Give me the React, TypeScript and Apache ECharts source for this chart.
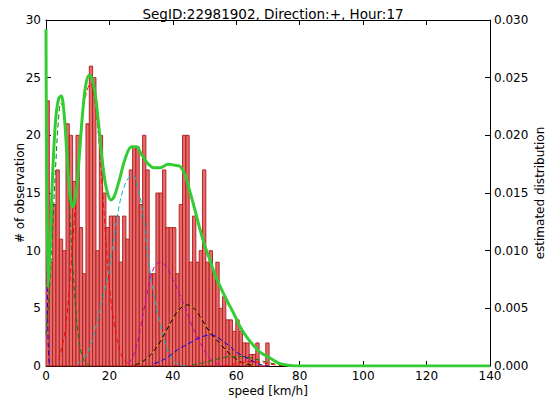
import React, { useEffect, useRef } from "react";
import * as echarts from "echarts";

const TITLE = "SegID:22981902, Direction:+, Hour:17";
const BIN_START = 0;
const BIN_WIDTH = 1.05;
const counts = [
  23, 9, 14, 17, 11, 10, 21, 20, 16, 20, 12, 8, 21, 26, 25, 10, 20, 15, 12, 13,
  13, 13, 9, 13, 11, 17, 19, 19, 14, 20, 17, 8, 8, 15, 15, 17, 12, 12, 12, 8,
  14, 20, 20, 9, 13, 9, 10, 17, 9, 10, 8, 9, 5, 6, 4, 4, 3, 4, 3, 2, 2, 1, 1, 2, 0, 0, 2,
];

const kde = [
  [0, 0.0292], [0.6, 0.0068], [1.2, 0.0095], [2, 0.016], [3, 0.0212], [4, 0.0232], [4.8, 0.0234],
  [5.6, 0.0222], [6.5, 0.0188], [7.5, 0.0150], [8.5, 0.0138], [9.5, 0.0150], [10.5, 0.0182],
  [11.5, 0.0218], [12.5, 0.0243], [13.6, 0.0252], [14.4, 0.0250], [15.5, 0.0236], [16.5, 0.0212],
  [17.5, 0.0184], [18.5, 0.0162], [19.5, 0.0149], [20.5, 0.0144], [21.5, 0.0147], [23, 0.0160],
  [25, 0.0180], [27, 0.0190], [28.5, 0.0190], [30, 0.0184], [32, 0.0176], [34, 0.0172],
  [36, 0.0172], [38.5, 0.0175], [40.7, 0.0174], [42.3, 0.0173], [43.8, 0.0166], [45.4, 0.0151],
  [47, 0.0135], [48.6, 0.0118], [50.1, 0.0104], [51.7, 0.0092], [53.3, 0.0079], [54.9, 0.0069],
  [57, 0.0057], [59.1, 0.0046], [61.2, 0.0034], [63.3, 0.0025], [65.4, 0.0018], [67.5, 0.0012],
  [70.6, 0.0007], [73.8, 0.0002], [77, 0.00005], [80, 0], [140, 0],
];

const compBlue1 = [[0, 0.027], [0.2, 0.019], [0.4, 0.0075], [0.6, 0.0028], [0.8, 0.0010], [1.0, 0.0003], [1.5, 0]];
const compGreen1 = [
  [0, 0.0027], [1, 0.0062], [2, 0.0114], [3, 0.0171], [4, 0.0216], [4.7, 0.0228], [5.5, 0.0222],
  [6.5, 0.0186], [7.5, 0.0134], [8.5, 0.0083], [9.5, 0.0044], [10.5, 0.0020], [11.5, 0.0008],
  [12.5, 0.0003], [14, 0],
];
const compRed1 = [
  [4, 0.0005], [6, 0.0030], [8, 0.0090], [10, 0.0170], [12, 0.0228], [14, 0.0245], [16, 0.0215],
  [18, 0.0145], [20, 0.0070], [22, 0.0028], [24, 0.0008], [26, 0.0002], [28, 0],
];
const compCyan = [
  [10, 0.0002], [12, 0.0007], [14, 0.0017], [16, 0.0037], [18, 0.0060], [20, 0.0085], [22, 0.0122],
  [24, 0.0150], [26, 0.0163], [27.5, 0.0165], [29, 0.0155], [30.5, 0.0133], [32, 0.0098],
  [34, 0.0062], [36, 0.0037], [38, 0.0016], [40, 0.0005], [42, 0.0001], [44, 0],
];
const compMagenta = [
  [26, 0.0002], [28, 0.0012], [30, 0.0036], [32, 0.0065], [34, 0.0085], [36, 0.0090], [38, 0.0086],
  [40, 0.0075], [42, 0.0063], [44, 0.0050], [46, 0.0035], [48, 0.0024], [50, 0.0013], [52, 0.0006],
  [54, 0.0002], [56, 0],
];
const compBlack = [
  [28, 0.0001], [30, 0.0003], [32, 0.0007], [34, 0.0013], [36, 0.0021], [38, 0.0031], [40, 0.0041],
  [42, 0.0049], [44.5, 0.0053], [47, 0.0049], [49, 0.0041], [51, 0.0032], [53, 0.0025], [55, 0.0019],
  [57, 0.0013], [59, 0.0008], [61, 0.0004], [63, 0.0002], [66, 0],
];
const compBlue2 = [
  [34, 0.0002], [36, 0.0004], [38, 0.0007], [40, 0.0011], [42, 0.0015], [44, 0.0018], [46, 0.0021],
  [48, 0.0024], [50, 0.0026], [52, 0.0027], [54, 0.0025], [56, 0.0021], [58, 0.0017], [60, 0.0012],
  [62, 0.0009], [64, 0.0006], [66, 0.0003], [68, 0.0001], [70, 0],
];
const compGreen2 = [
  [46, 0.0001], [50, 0.0003], [54, 0.0006], [58, 0.0008], [62, 0.0008], [66, 0.0006], [70, 0.0003],
  [74, 0.0001], [78, 0],
];
const compRed2 = [[56, 0], [60, 0.0002], [64, 0.0004], [68, 0.0003], [72, 0.0001], [76, 0]];

const FONT = "DejaVu Sans";

export default function App() {
  const ref = useRef<HTMLDivElement>(null);
  useEffect(() => {
    const chart = echarts.init(ref.current!, null, { renderer: "svg" });
    const barData = counts.map((c, i) => [BIN_START + i * BIN_WIDTH, BIN_START + (i + 1) * BIN_WIDTH, c]);
    const dashed = (name: string, data: number[][], color: string, offset = 0) => ({
      name,
      type: "line",
      yAxisIndex: 1,
      data,
      smooth: 0.35,
      symbol: "none",
      z: 3,
      lineStyle: { color, width: 1, type: [5, 3], dashOffset: offset },
    });
    chart.setOption({
      animation: false,
      backgroundColor: "#ffffff",
      textStyle: { fontFamily: FONT },
      title: {
        text: TITLE,
        left: 268,
        textAlign: "center",
        top: 2,
        textStyle: { fontFamily: FONT, fontSize: 13.5, fontWeight: "normal", color: "#000" },
      },
      grid: { left: 46, right: 61, top: 20, bottom: 34, containLabel: false, outerBoundsMode: "none" },
      xAxis: [
        {
          type: "value",
          min: 0,
          max: 140,
          interval: 20,
          position: "bottom",
          name: "speed [km/h]",
          nameLocation: "middle",
          nameGap: 19,
          nameMoveOverlap: false,
          nameTextStyle: { fontFamily: FONT, fontSize: 12, color: "#000" },
          axisLine: { onZero: false, lineStyle: { color: "#000", width: 1 } },
          axisTick: { inside: true, length: 5, lineStyle: { color: "#000" } },
          axisLabel: { fontFamily: FONT, fontSize: 12, color: "#000", margin: 4 },
          splitLine: { show: false },
        },
        {
          type: "value",
          min: 0,
          max: 140,
          interval: 20,
          position: "top",
          axisLine: { onZero: false, lineStyle: { color: "#000", width: 1 } },
          axisTick: { inside: true, length: 5, lineStyle: { color: "#000" } },
          axisLabel: { show: false },
          splitLine: { show: false },
        },
      ],
      yAxis: [
        {
          type: "value",
          min: 0,
          max: 30,
          interval: 5,
          position: "left",
          name: "# of observation",
          nameLocation: "middle",
          nameGap: 20,
          nameRotate: 90,
          nameMoveOverlap: false,
          nameTextStyle: { fontFamily: FONT, fontSize: 12, color: "#000" },
          axisLine: { show: true, onZero: false, lineStyle: { color: "#000", width: 1 } },
          axisTick: { show: true, inside: true, length: 5, lineStyle: { color: "#000" } },
          axisLabel: { fontFamily: FONT, fontSize: 12, color: "#000", margin: 5 },
          splitLine: { show: false },
        },
        {
          type: "value",
          min: 0,
          max: 0.03,
          interval: 0.005,
          position: "right",
          name: "estimated distribution",
          nameLocation: "middle",
          nameGap: 44,
          nameRotate: 90,
          nameMoveOverlap: false,
          nameTextStyle: { fontFamily: FONT, fontSize: 12, color: "#000" },
          axisLine: { show: true, onZero: false, lineStyle: { color: "#000", width: 1 } },
          axisTick: { show: true, inside: true, length: 5, lineStyle: { color: "#000" } },
          axisLabel: {
            fontFamily: FONT,
            fontSize: 12,
            color: "#000",
            margin: 4,
            formatter: (v: number) => v.toFixed(3),
          },
          splitLine: { show: false },
        },
      ],
      series: [
        {
          name: "histogram",
          type: "custom",
          xAxisIndex: 0,
          yAxisIndex: 0,
          data: barData,
          encode: { x: [0, 1], y: 2 },
          z: 1,
          renderItem: (params: any, api: any) => {
            const x0 = api.value(0);
            const x1 = api.value(1);
            const h = api.value(2);
            const p0 = api.coord([x0, h]);
            const p1 = api.coord([x1, 0]);
            return {
              type: "rect",
              shape: { x: p0[0], y: p0[1], width: p1[0] - p0[0], height: p1[1] - p0[1] },
              style: { fill: "#e86a6a", stroke: "#a81c1c", lineWidth: 0.9 },
            };
          },
        },
        dashed("b1", compBlue1, "#0000ff"),
        dashed("g1", compGreen1, "#007f00"),
        dashed("r1", compRed1, "#ff0000"),
        dashed("c", compCyan, "#00bfbf"),
        dashed("m", compMagenta, "#bf00bf"),
        dashed("y", compBlack, "#d9a400", 4),
        dashed("k", compBlack, "#000000"),
        dashed("b2", compBlue2, "#0000ff"),
        dashed("g2", compGreen2, "#007f00"),
        dashed("r2", compRed2, "#ff0000"),
        {
          name: "kde",
          type: "line",
          yAxisIndex: 1,
          data: kde,
          smooth: 0.35,
          symbol: "none",
          z: 5,
          lineStyle: { color: "#33cc33", width: 3 },
        },
      ],
    });
    return () => chart.dispose();
  }, []);
  return (
    <div
      ref={ref}
      style={{ position: "fixed", left: 0, top: 0, width: 551, height: 400, background: "#fff" }}
    />
  );
}
